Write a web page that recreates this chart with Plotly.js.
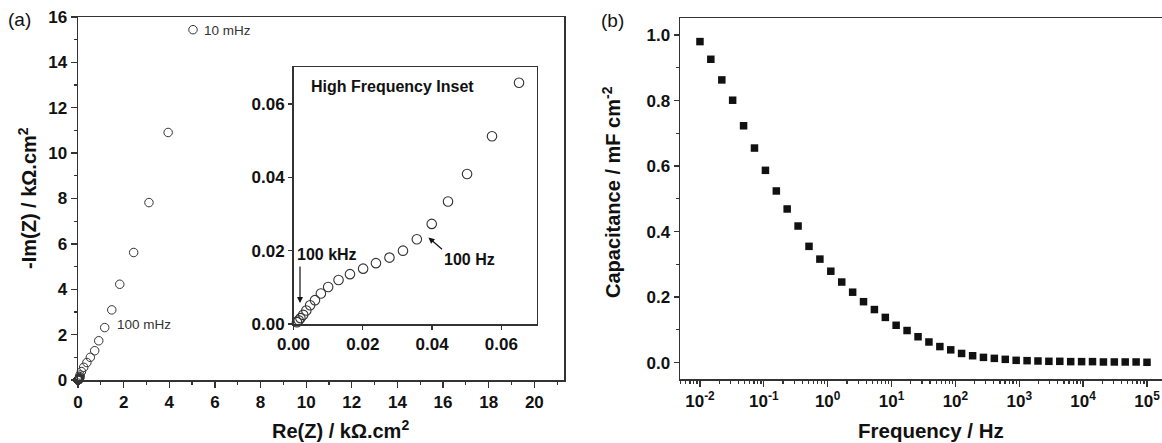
<!DOCTYPE html>
<html>
<head>
<meta charset="utf-8">
<script src="https://cdn.plot.ly/plotly-3.0.1.min.js"></script>
<style>html,body{margin:0;padding:0;background:#fff;overflow:hidden}</style>
</head>
<body>
<div id="chart" style="width:1162px;height:443px"></div>
<script>
// ---- Data: (a) Nyquist plot, low-frequency part (kΩ.cm²) ----
const mainRe = [5.04, 3.95, 3.11, 2.44, 1.83, 1.48, 1.17, 0.91, 0.73, 0.54, 0.39, 0.25, 0.15, 0.09, 0.08, 0.075, 0.07];
const mainIm = [15.44, 10.91, 7.82, 5.62, 4.22, 3.09, 2.31, 1.73, 1.29, 1.00, 0.77, 0.56, 0.37, 0.22, 0.15, 0.11, 0.085];
// ---- Data: (a) inset, high-frequency part (kΩ.cm²) ----
const insetRe = [0.0651, 0.0573, 0.0501, 0.0446, 0.0399, 0.0356, 0.0316, 0.0277, 0.0238, 0.0201, 0.0163, 0.0130, 0.0100, 0.0079, 0.0062, 0.0048, 0.0037, 0.0028, 0.0020, 0.0015, 0.0010];
const insetIm = [0.0658, 0.0512, 0.0409, 0.0334, 0.0273, 0.0231, 0.0200, 0.0181, 0.0166, 0.0151, 0.0136, 0.0120, 0.0101, 0.0083, 0.0065, 0.0051, 0.0037, 0.0025, 0.0016, 0.0010, 0.0005];
// ---- Data: (b) capacitance vs frequency ----
const freqHz = [0.01, 0.0148, 0.0220, 0.0325, 0.0482, 0.0714, 0.106, 0.157, 0.232, 0.344, 0.510, 0.755, 1.12, 1.66, 2.46, 3.64, 5.39, 7.99, 11.8, 17.5, 26.0, 38.5, 57.1, 84.5, 125, 186, 275, 407, 604, 894, 1325, 1963, 2909, 4310, 6386, 9461, 14018, 20770, 30773, 45594, 67554, 100000];
const capac = [0.980, 0.926, 0.863, 0.801, 0.723, 0.655, 0.587, 0.524, 0.469, 0.417, 0.355, 0.316, 0.279, 0.246, 0.215, 0.186, 0.162, 0.138, 0.114, 0.098, 0.079, 0.063, 0.049, 0.039, 0.028, 0.021, 0.016, 0.013, 0.010, 0.007, 0.006, 0.005, 0.004, 0.004, 0.003, 0.003, 0.003, 0.002, 0.002, 0.002, 0.002, 0.001];
// ---- Tick labels ----
const logTickVals = [0.01, 0.1, 1, 10, 100, 1000, 10000, 100000];
const logTickText = ['<b>10<sup>-2</sup></b>', '<b>10<sup>-1</sup></b>', '<b>10<sup>0</sup></b>', '<b>10<sup>1</sup></b>', '<b>10<sup>2</sup></b>', '<b>10<sup>3</sup></b>', '<b>10<sup>4</sup></b>', '<b>10<sup>5</sup></b>'];

const W = 1162, H = 443;
const px = v => v / W;
const py = v => 1 - v / H;
const FAM = 'Liberation Sans, Arial, Helvetica, sans-serif';
const lineCol = '#333';
function tf() { return {family: FAM, size: 17, color: '#111'}; }

const traces = [
  {x: mainRe.concat(insetRe), y: mainIm.concat(insetIm), xaxis: 'x', yaxis: 'y', type: 'scatter', mode: 'markers',
   cliponaxis: false, marker: {symbol: 'circle-open', size: 8.5, color: '#333', line: {width: 1}}},
  {x: insetRe, y: insetIm, xaxis: 'x2', yaxis: 'y2', type: 'scatter', mode: 'markers',
   cliponaxis: false, marker: {symbol: 'circle-open', size: 9.5, color: '#333', line: {width: 1.1}}},
  {x: freqHz, y: capac, xaxis: 'x3', yaxis: 'y3', type: 'scatter', mode: 'markers',
   marker: {symbol: 'square', size: 7.5, color: '#111'}}
];

function ax(extra) {
  return Object.assign({showgrid: false, zeroline: false, showline: true, linecolor: lineCol, linewidth: 1.5,
    ticks: 'outside', tickcolor: lineCol, tickwidth: 1.3, tickfont: tf(), tickprefix: '<b>', ticksuffix: '</b>'}, extra);
}
function mnr(d) { return {dtick: d, ticks: 'outside', ticklen: 3, tickcolor: lineCol, tickwidth: 1.2, showgrid: false}; }

function ann(text, x, y, size, bold, extra) {
  return Object.assign({text: bold ? '<b>' + text + '</b>' : text, x: px(x), y: py(y), xref: 'paper', yref: 'paper',
    xanchor: 'center', yanchor: 'middle', showarrow: false,
    font: {size: size, family: FAM, color: '#111'}}, extra || {});
}

const layout = {
  width: W, height: H, margin: {l: 0, r: 0, t: 0, b: 0},
  paper_bgcolor: '#fff', plot_bgcolor: '#fff', showlegend: false,
  font: {family: FAM, color: '#111'},
  xaxis: ax({domain: [px(78), px(564)], range: [0, 21.3], anchor: 'y', mirror: true,
    tick0: 0, dtick: 2, ticklen: 6, minor: mnr(1)}),
  yaxis: ax({domain: [py(380), py(17)], range: [0, 16], anchor: 'x', mirror: true,
    tick0: 0, dtick: 2, ticklen: 6, minor: mnr(1)}),
  xaxis2: ax({domain: [px(293.5), px(536.7)], range: [0, 0.0702], anchor: 'y2', mirror: true,
    tick0: 0, dtick: 0.02, tickformat: '.2f', ticklen: 4}),
  yaxis2: ax({domain: [py(324), py(67.3)], range: [0, 0.070], anchor: 'x2', mirror: true,
    tick0: 0, dtick: 0.02, tickformat: '.2f', ticklen: 4}),
  xaxis3: ax({type: 'log', domain: [px(680), 1], range: [-2.3125, 5.235], anchor: 'y3', mirror: true,
    tickmode: 'array', tickvals: logTickVals, ticktext: logTickText, tickprefix: '', ticksuffix: '', ticklen: 6,
    minor: mnr('D1')}),
  yaxis3: ax({domain: [py(379), py(18)], range: [-0.05, 1.052], anchor: 'x3', mirror: false,
    tick0: 0, dtick: 0.2, tickformat: '.1f', ticklen: 5, minor: mnr(0.1)}),
  annotations: [
    ann('(a)', 20, 19, 19, false),
    ann('(b)', 612, 21, 19, false),
    ann('-Im(Z) / kΩ.cm<sup>2</sup>', 27, 198, 20, true, {textangle: -90}),
    ann('Re(Z) / kΩ.cm<sup>2</sup>', 340, 429, 20, true),
    ann('Capacitance / mF cm<sup>-2</sup>', 611, 192, 20, true, {textangle: -90}),
    ann('Frequency / Hz', 931, 430, 20.5, true),
    ann('10 mHz', 202, 31, 13.5, false, {xanchor: 'left', font: {size: 13.5, family: FAM, color: '#333'}}),
    ann('100 mHz', 115, 324, 13.5, false, {xanchor: 'left', font: {size: 13.5, family: FAM, color: '#333'}}),
    ann('High Frequency Inset', 309, 86, 16, true, {xanchor: 'left'}),
    ann('100 kHz', 295, 254, 16, true, {xanchor: 'left'}),
    {text: '', x: px(300), y: py(303), xref: 'paper', yref: 'paper', showarrow: true, ax: 0, ay: -38,
     arrowhead: 2, arrowsize: 1, arrowwidth: 1.2, arrowcolor: '#111'},
    ann('100 Hz', 442, 259, 16, true, {xanchor: 'left'}),
    {text: '', x: px(428.5), y: py(237.5), xref: 'paper', yref: 'paper', showarrow: true, ax: 15, ay: 13,
     arrowhead: 2, arrowsize: 1, arrowwidth: 1.2, arrowcolor: '#111'}
  ]
};

Plotly.newPlot('chart', traces, layout, {staticPlot: true, displayModeBar: false});
</script>
</body>
</html>
